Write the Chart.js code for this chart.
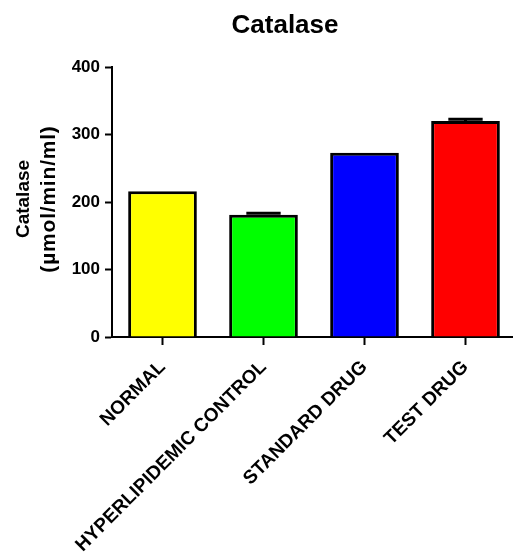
<!DOCTYPE html>
<html>
<head>
<meta charset="utf-8">
<script src="https://cdn.jsdelivr.net/npm/chart.js@4/dist/chart.umd.min.js"></script>
<style>
html,body{margin:0;padding:0;background:#fff;overflow:hidden;}
#wrap{position:relative;width:516px;height:560px;}
</style>
</head>
<body>
<div id="wrap"><canvas id="c" width="516" height="560"></canvas></div>
<script>
const chartTitle = "Catalase";
const yTitle = ["Catalase", "(µmol/min/ml)"];
const categories = ["NORMAL", "HYPERLIPIDEMIC CONTROL", "STANDARD DRUG", "TEST DRUG"];
const values = [216, 181, 273, 320];
const errors = [0, 2.5, 0, 2.5];
const barColors = ["#FFFF00", "#00FF00", "#0000FF", "#FF0000"];
const yTicks = [0, 100, 200, 300, 400];

const FONT = "'Liberation Sans', Arial, sans-serif";

const errorBars = {
  id: 'errorBars',
  afterDatasetsDraw(chart) {
    const ctx = chart.ctx;
    const meta = chart.getDatasetMeta(0);
    const y = chart.scales.y;
    ctx.save();
    ctx.strokeStyle = '#000';
    ctx.lineWidth = 3;
    meta.data.forEach((bar, i) => {
      if (!(errors[i] > 0)) return;
      const top = y.getPixelForValue(values[i] + errors[i]);
      const base = y.getPixelForValue(values[i]);
      const half = bar.width / 4;
      ctx.beginPath();
      ctx.moveTo(bar.x, base);
      ctx.lineTo(bar.x, top);
      ctx.moveTo(bar.x - half, top);
      ctx.lineTo(bar.x + half, top);
      ctx.stroke();
    });
    ctx.restore();
  }
};

const textPlugin = {
  id: 'textPlugin',
  afterDraw(chart) {
    const ctx = chart.ctx;
    ctx.save();
    ctx.fillStyle = '#000';
    ctx.font = "bold 26px " + FONT;
    ctx.textAlign = 'center';
    ctx.textBaseline = 'middle';
    ctx.fillText(chartTitle, 285, 26);
    ctx.restore();

    // y axis title, two rotated lines
    const cy = 199;
    const xs = [24, 49];
    const sizes = [19, 21];
    const spacing = ['0px', '0.8px'];
    yTitle.forEach((line, i) => {
      ctx.save();
      ctx.translate(xs[i], cy);
      ctx.rotate(-Math.PI / 2);
      ctx.fillStyle = '#000';
      ctx.font = "bold " + sizes[i] + "px " + FONT;
      if ('letterSpacing' in ctx) ctx.letterSpacing = spacing[i];
      ctx.textAlign = 'center';
      ctx.textBaseline = 'middle';
      ctx.fillText(line, 0, 0);
      ctx.restore();
    });
  }
};

new Chart(document.getElementById('c'), {
  type: 'bar',
  data: {
    labels: categories,
    datasets: [{
      data: values,
      backgroundColor: barColors,
      borderColor: '#000',
      borderWidth: 3,
      barPercentage: 0.68,
      categoryPercentage: 1.0
    }]
  },
  options: {
    responsive: false,
    animation: false,
    devicePixelRatio: 1,
    layout: { padding: { top: 67, left: 0, right: 0, bottom: 0 } },
    plugins: { legend: { display: false }, tooltip: { enabled: false }, title: { display: false } },
    scales: {
      x: {
        offset: true,
        grid: { display: true, drawOnChartArea: false, drawTicks: true, offset: false, tickLength: 8, tickWidth: 2, tickColor: '#000' },
        border: { display: true, color: '#000', width: 2 },
        ticks: { color: '#000', font: { family: FONT, size: 19, weight: 'bold' }, minRotation: 45, maxRotation: 45, padding: 11, autoSkip: false },
        afterFit(s) { s.height = 223; }
      },
      y: {
        min: 0, max: 400,
        afterBuildTicks(s) { s.ticks = yTicks.map(v => ({ value: v })); },
        grid: { display: true, drawOnChartArea: false, drawTicks: true, tickLength: 7, tickWidth: 2, tickColor: '#000' },
        border: { display: true, color: '#000', width: 2 },
        ticks: { color: '#000', font: { family: FONT, size: 17, weight: 'bold' }, padding: 5 },
        title: { display: false },
        afterFit(s) { s.width = 112; }
      }
    }
  },
  plugins: [errorBars, textPlugin]
});
</script>
</body>
</html>
